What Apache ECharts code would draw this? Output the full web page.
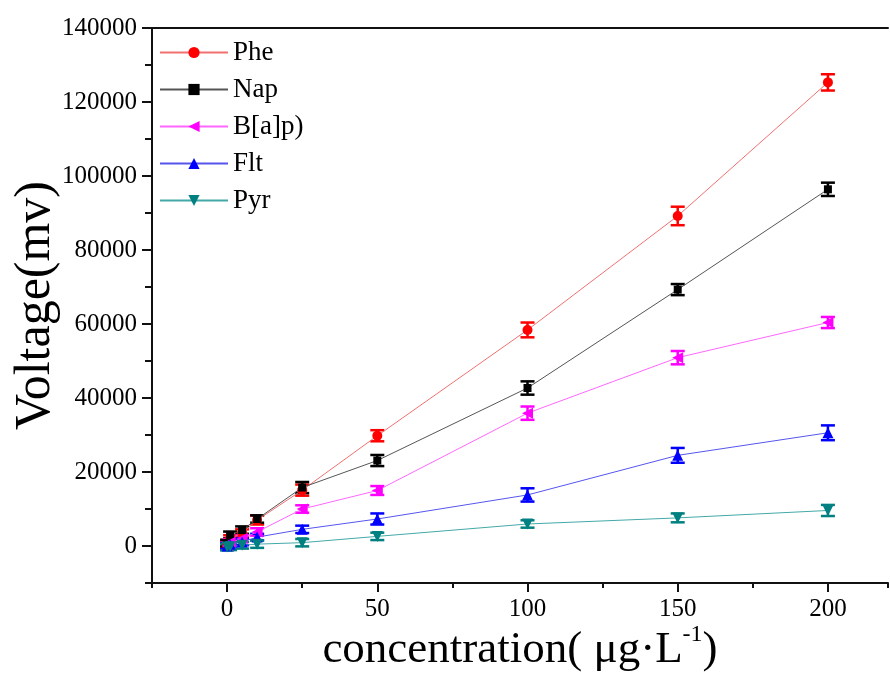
<!DOCTYPE html>
<html>
<head>
<meta charset="utf-8">
<title>Voltage vs concentration</title>
<script src="https://cdn.jsdelivr.net/npm/echarts@6/dist/echarts.min.js"></script>
<style>
  html, body { margin: 0; padding: 0; background: #fff; }
  #main { width: 890px; height: 673px; }
</style>
</head>
<body>
<div id="main"></div>
<script>
// concentration (μg/L)
var conc = [0, 1, 5, 10, 25, 50, 100, 150, 200];

// voltage (mv) per compound
var phe = [500, 2000, 3500, 7000, 15100, 29800, 58400, 89200, 125300];
var nap = [800, 3000, 4300, 7300, 15800, 23100, 42700, 69300, 96400];
var bap = [0, 1000, 2000, 3800, 10000, 15000, 35900, 50900, 60400];
var flt = [0, 500, 1100, 2400, 4500, 7300, 13800, 24500, 30600];
var pyr = [-300, -200, 200, 500, 900, 2600, 5950, 7600, 9600];

// error bar half-heights
var pheErr = [800, 900, 1000, 1200, 1500, 1500, 2000, 2500, 2200];
var napErr = [900, 900, 1000, 1000, 1500, 1500, 1800, 1500, 1800];
var bapErr = [900, 900, 900, 1000, 1000, 1200, 1800, 1800, 1500];
var fltErr = [800, 800, 900, 900, 1000, 1500, 1800, 2000, 2000];
var pyrErr = [900, 900, 900, 1000, 1000, 1000, 1000, 1200, 1500];

var xMajor = [0, 50, 100, 150, 200];
var yMajor = [0, 20000, 40000, 60000, 80000, 100000, 120000, 140000];

var font = "'Liberation Serif', 'DejaVu Serif', serif";

var compounds = [
  { name: "Phe", y: phe, err: pheErr, color: "#ff0000", line: "#f07070", symbol: "circle", size: 10, rot: 0 },
  { name: "Nap", y: nap, err: napErr, color: "#000000", line: "#555555", symbol: "rect", size: 8, rot: 0 },
  { name: "B[a]p)", y: bap, err: bapErr, color: "#ff00ff", line: "#ff66ff", symbol: "triangle", size: 11, rot: 90 },
  { name: "Flt", y: flt, err: fltErr, color: "#0000ff", line: "#5555ee", symbol: "triangle", size: 11, rot: 0 },
  { name: "Pyr", y: pyr, err: pyrErr, color: "#008080", line: "#44a8a8", symbol: "triangle", size: 11, rot: 180 }
];

function pairs(ys) {
  return conc.map(function (x, i) { return [x, ys[i]]; });
}

function errData(ys, es) {
  return conc.map(function (x, i) { return [x, ys[i] - es[i], ys[i] + es[i]]; });
}

function errRender(color) {
  return function (params, api) {
    var lo = api.coord([api.value(0), api.value(1)]);
    var hi = api.coord([api.value(0), api.value(2)]);
    var w = 7;
    var st = { stroke: color, lineWidth: 2.5 };
    return {
      type: "group",
      children: [
        { type: "line", shape: { x1: hi[0], y1: hi[1], x2: lo[0], y2: lo[1] }, style: st },
        { type: "line", shape: { x1: hi[0] - w, y1: hi[1], x2: hi[0] + w, y2: hi[1] }, style: st },
        { type: "line", shape: { x1: lo[0] - w, y1: lo[1], x2: lo[0] + w, y2: lo[1] }, style: st }
      ]
    };
  };
}

var series = [];
compounds.forEach(function (c) {
  series.push({
    type: "custom",
    name: c.name + "_err",
    xAxisIndex: 0,
    yAxisIndex: 0,
    data: errData(c.y, c.err),
    renderItem: errRender(c.color),
    z: 2,
    silent: true
  });
});
compounds.forEach(function (c) {
  series.push({
    type: "line",
    name: c.name,
    xAxisIndex: 0,
    yAxisIndex: 0,
    data: pairs(c.y),
    symbol: c.symbol,
    symbolSize: c.size,
    symbolRotate: c.rot,
    showAllSymbol: true,
    lineStyle: { color: c.line, width: 1 },
    itemStyle: { color: c.color },
    z: 3
  });
});

var myChart = echarts.init(document.getElementById("main"));
var option = {
  animation: false,
  grid: { left: 152, right: 2, top: 28, bottom: 90, outerBoundsMode: "none", containLabel: false },
  legend: {
    data: compounds.map(function (c) { return c.name; }),
    orient: "vertical",
    left: 154,
    top: 34,
    itemWidth: 68,
    itemHeight: 14,
    itemGap: 10,
    textStyle: { fontFamily: font, fontSize: 27, color: "#000", lineHeight: 27 }
  },
  xAxis: [
    {
      type: "value",
      min: -25,
      max: 220,
      interval: 25,
      position: "bottom",
      splitLine: { show: false },
      axisLine: { onZero: false, lineStyle: { color: "#111", width: 2 } },
      axisTick: { length: 5, lineStyle: { color: "#111", width: 2 } },
      axisLabel: {
        margin: 14,
        color: "#000",
        fontFamily: font,
        fontSize: 25,
        formatter: function (v) { return (v >= 0 && v % 50 === 0) ? String(v) : ""; }
      },
      name: "{a|concentration( μg·L}{s|-1}{a|)}",
      nameLocation: "middle",
      nameGap: 40,
      nameMoveOverlap: false,
      nameTextStyle: {
        rich: {
          a: { fontFamily: font, fontSize: 45, color: "#000", verticalAlign: "bottom", lineHeight: 50 },
          s: { fontFamily: font, fontSize: 24, color: "#000", verticalAlign: "top", lineHeight: 50, padding: [0, 0, 22, 0] }
        }
      }
    },
    {
      type: "value",
      min: -25,
      max: 220,
      position: "bottom",
      splitLine: { show: false },
      axisLine: { show: false, onZero: false },
      axisTick: { length: 9, customValues: xMajor, lineStyle: { color: "#111", width: 2 } },
      axisLabel: { show: false }
    },
    {
      type: "value",
      min: -25,
      max: 220,
      position: "top",
      splitLine: { show: false },
      axisLine: { show: true, onZero: false, lineStyle: { color: "#111", width: 2 } },
      axisTick: { show: false },
      axisLabel: { show: false }
    }
  ],
  yAxis: [
    {
      type: "value",
      min: -10000,
      max: 140000,
      interval: 10000,
      position: "left",
      splitLine: { show: false },
      axisLine: { onZero: false, lineStyle: { color: "#111", width: 2 } },
      axisTick: { length: 7, lineStyle: { color: "#111", width: 2 } },
      axisLabel: {
        margin: 15,
        color: "#000",
        fontFamily: font,
        fontSize: 25,
        formatter: function (v) { return (v >= 0 && v % 20000 === 0) ? String(v) : ""; }
      },
      name: "Voltage(mv)",
      nameLocation: "middle",
      nameGap: 91,
      nameMoveOverlap: false,
      nameTextStyle: { fontFamily: font, fontSize: 50, color: "#000" }
    },
    {
      type: "value",
      min: -10000,
      max: 140000,
      position: "left",
      splitLine: { show: false },
      axisLine: { show: false, onZero: false },
      axisTick: { length: 10, customValues: yMajor, lineStyle: { color: "#111", width: 2 } },
      axisLabel: { show: false }
    }
  ],
  series: series
};
myChart.setOption(option);
</script>
</body>
</html>
